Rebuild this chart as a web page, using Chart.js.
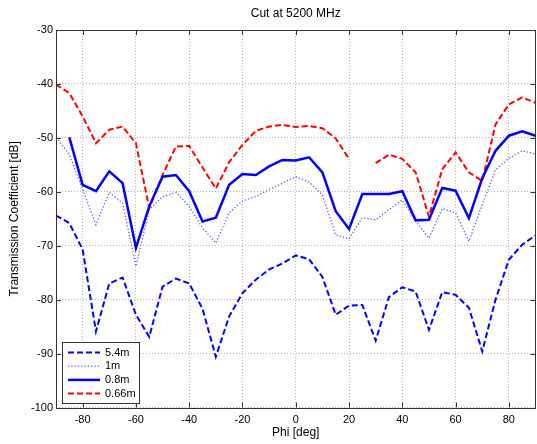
<!DOCTYPE html>
<html>
<head>
<meta charset="utf-8">
<script src="https://cdn.jsdelivr.net/npm/chart.js@4/dist/chart.umd.min.js"></script>
<style>
html,body{margin:0;padding:0;background:#fff;}
#wrap{width:537px;height:444px;position:relative;}
</style>
</head>
<body>
<div id="wrap"><canvas id="c" width="537" height="444"></canvas></div>
<script>
const phi = [-90,-85,-80,-75,-70,-65,-60,-55,-50,-45,-40,-35,-30,-25,-20,-15,-10,-5,0,5,10,15,20,25,30,35,40,45,50,55,60,65,70,75,80,85,90];
const s54m = [-64.4,-65.8,-70.7,-85.9,-77.0,-75.9,-82.8,-86.9,-77.6,-76.1,-77.0,-81.7,-90.6,-83.1,-78.8,-76.3,-74.4,-73.3,-71.8,-72.5,-75.8,-82.8,-81.1,-81.0,-87.6,-79.5,-77.7,-78.5,-85.6,-78.6,-79.1,-81.5,-89.6,-80.0,-72.6,-69.8,-68.1];
const s1m = [-49.9,-53.1,-59.6,-66.1,-60.1,-62.1,-73.8,-63.3,-60.9,-60.1,-62.7,-66.7,-69.5,-63.9,-61.7,-60.9,-59.6,-58.4,-57.2,-58.2,-60.6,-68.0,-68.7,-64.8,-65.2,-63.3,-61.5,-65.4,-68.6,-63.1,-63.9,-69.2,-62.4,-55.9,-53.8,-52.4,-53.0];
const s08m = [null,-49.9,-58.7,-59.9,-56.2,-58.4,-70.4,-62.7,-57.2,-56.9,-59.9,-65.5,-64.8,-58.7,-56.7,-56.9,-55.3,-54.1,-54.2,-53.6,-56.4,-63.6,-66.9,-60.4,-60.4,-60.4,-59.9,-65.3,-65.2,-59.3,-59.8,-64.9,-57.5,-52.4,-49.6,-48.8,-49.6];
const s066m = [-40.1,-41.7,-46.0,-51.0,-48.5,-47.9,-51.0,-63.0,-56.9,-51.6,-51.5,-55.5,-59.4,-54.5,-51.3,-48.7,-47.9,-47.6,-48.0,-47.8,-48.2,-50.1,-53.9,null,-54.7,-53.1,-53.9,-56.4,-64.6,-55.8,-52.7,-56.4,-58.0,-47.5,-43.8,-42.5,-43.5];
const seriesLabels = ['5.4m','1m','0.8m','0.66m'];
const xTicks = [-80,-60,-40,-20,0,20,40,60,80];
const yTicks = [-100,-90,-80,-70,-60,-50,-40,-30];
const titleText = 'Cut at 5200 MHz';
const xTitle = 'Phi [deg]';
const yTitle = 'Transmission Coefficient [dB]';

const FONT = 'Liberation Sans, Arial, Helvetica, sans-serif';
const pts = arr => phi.map((x,i)=>({x:x,y:arr[i]}));

const datasets = [
  {label:seriesLabels[0], data:pts(s54m), borderColor:'#0000ff', borderWidth:2, borderDash:[6,3]},
  {label:seriesLabels[1], data:pts(s1m), borderColor:'rgba(40,40,255,0.75)', borderWidth:1.3, borderDash:[1.3,2]},
  {label:seriesLabels[2], data:pts(s08m), borderColor:'#0000ff', borderWidth:2.5, borderDash:[]},
  {label:seriesLabels[3], data:pts(s066m), borderColor:'#ff0000', borderWidth:2, borderDash:[6,3]}
].map(d=>Object.assign(d,{pointRadius:0, fill:false, tension:0, spanGaps:false, borderJoinStyle:'miter'}));

const boxPlugin = {
  id:'boxPlugin',
  afterDraw(chart){
    const {ctx, chartArea:a, scales} = chart;
    ctx.save();
    ctx.strokeStyle = '#333';
    ctx.lineWidth = 1;
    ctx.strokeRect(Math.round(a.left)+0.5, Math.round(a.top)+0.5, Math.round(a.right-a.left)-1, Math.round(a.bottom-a.top));
    const L = 5;
    ctx.beginPath();
    xTicks.forEach(v=>{
      const x = Math.round(scales.x.getPixelForValue(v))+0.5;
      ctx.moveTo(x, a.top); ctx.lineTo(x, a.top+L);
      ctx.moveTo(x, a.bottom); ctx.lineTo(x, a.bottom-L);
    });
    yTicks.forEach(v=>{
      const y = Math.round(scales.y.getPixelForValue(v))+0.5;
      ctx.moveTo(a.left, y); ctx.lineTo(a.left+L, y);
      ctx.moveTo(a.right, y); ctx.lineTo(a.right-L, y);
    });
    ctx.stroke();
    // title
    ctx.fillStyle = '#000';
    ctx.font = '12px ' + FONT;
    ctx.textAlign = 'center';
    ctx.textBaseline = 'middle';
    ctx.fillText(titleText, (a.left+a.right)/2, 14);
    // legend
    ctx.font = '11px ' + FONT;
    const bx = 62, by = 342, bw = 77, bh = 61;
    ctx.fillStyle = '#fff';
    ctx.fillRect(bx, by, bw, bh);
    ctx.strokeStyle = '#333';
    ctx.strokeRect(bx+0.5, by+0.5, bw, bh);
    chart.data.datasets.forEach((d,i)=>{
      const y = by + 10.5 + i*13.7;
      ctx.beginPath();
      ctx.strokeStyle = d.borderColor;
      ctx.lineWidth = d.borderWidth;
      ctx.setLineDash(d.borderDash);
      ctx.moveTo(68, y); ctx.lineTo(100, y);
      ctx.stroke();
      ctx.setLineDash([]);
      ctx.fillStyle = '#000';
      ctx.textAlign = 'left';
      ctx.fillText(d.label, 105, y);
    });
    ctx.restore();
  }
};

new Chart(document.getElementById('c'), {
  type:'line',
  data:{datasets:datasets},
  options:{
    responsive:false,
    animation:false,
    devicePixelRatio:1,
    layout:{padding:{top:30, right:1.5, left:0, bottom:0}},
    plugins:{legend:{display:false}, title:{display:false}, tooltip:{enabled:false}},
    scales:{
      x:{
        type:'linear', min:-90, max:90,
        afterBuildTicks:s=>{ s.ticks = xTicks.map(v=>({value:v})); },
        afterFit:s=>{ s.height = 36.5; },
        grid:{color:'#b4b4b4', drawTicks:false, lineWidth:1},
        border:{display:false, dash:[1,2]},
        ticks:{color:'#000', font:{family:FONT, size:11}, padding:6, maxRotation:0},
        title:{display:true, text:xTitle, color:'#000', font:{family:FONT, size:12}, padding:{top:4.5, bottom:4.5}}
      },
      y:{
        type:'linear', min:-100, max:-30,
        afterBuildTicks:s=>{ s.ticks = yTicks.map(v=>({value:v})); },
        afterFit:s=>{ s.width = 56; },
        grid:{color:'#b4b4b4', drawTicks:false, lineWidth:1},
        border:{display:false, dash:[1,2]},
        ticks:{color:'#000', font:{family:FONT, size:11}, padding:3},
        title:{display:true, text:yTitle, color:'#000', font:{family:FONT, size:12}, padding:{top:7, bottom:7}}
      }
    }
  },
  plugins:[boxPlugin]
});
</script>
</body>
</html>
